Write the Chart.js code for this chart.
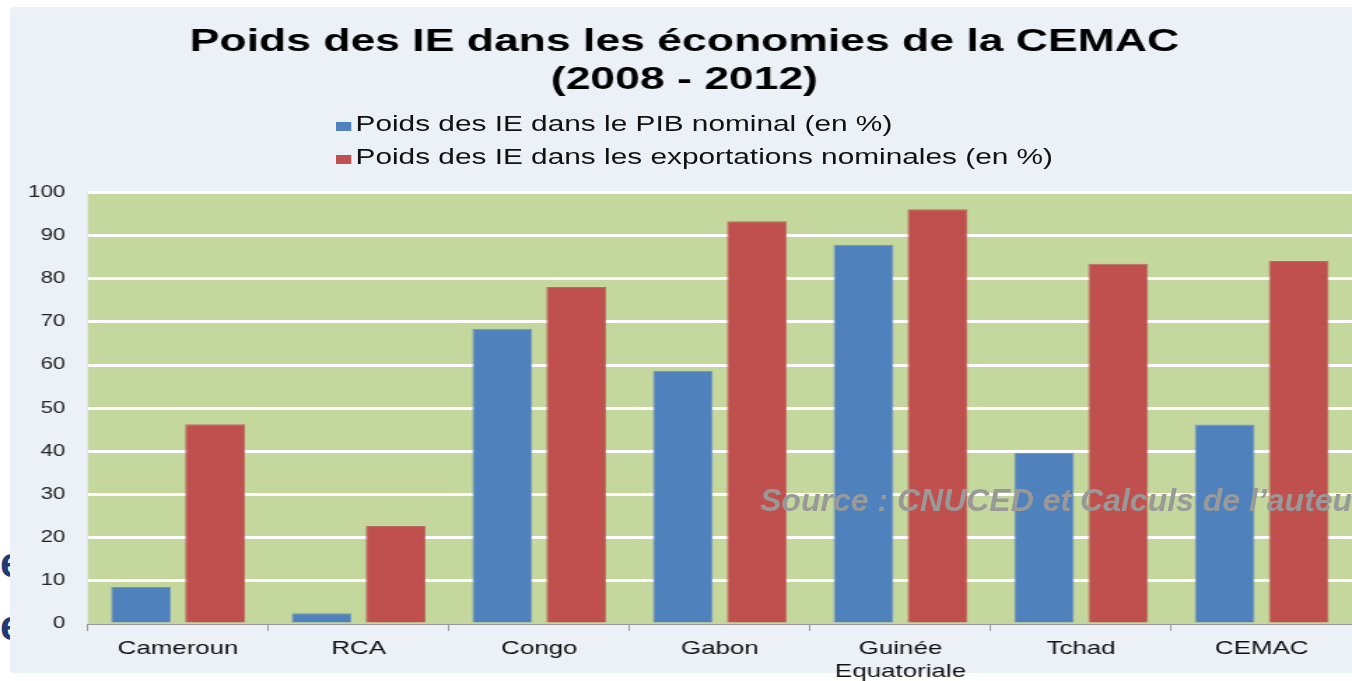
<!DOCTYPE html>
<html lang="fr">
<head>
<meta charset="utf-8">
<script src="https://cdn.jsdelivr.net/npm/chart.js@4.4.1/dist/chart.umd.min.js"></script>
<style>
  html, body { margin: 0; padding: 0; }
  body {
    width: 1352px; height: 681px; overflow: hidden;
    position: relative; background: #ffffff;
    font-family: "Liberation Sans", Arial, sans-serif;
  }
  .bg-e {
    position: absolute; left: 0; font-size: 42px; font-weight: bold;
    color: #1f3a72; line-height: 42px; z-index: 0;
  }
  #panel {
    position: absolute; left: 10px; top: 7px; width: 1342px; height: 666px;
    background: #ecf1f8; z-index: 1;
  }
  /* the reference slide is stretched horizontally, so is this wrapper */
  #stretch {
    position: absolute; left: 0; top: 0; width: 966px; height: 689px;
    transform: scaleX(1.3996); transform-origin: 0 0; z-index: 2;
  }
  #legend { position: absolute; left: 240px; top: 108px; }
  .leg-item {
    display: flex; align-items: center; height: 33px;
    font-size: 21.3px; color: #111; white-space: nowrap;
  }
  .leg-box { width: 11px; height: 9px; margin-right: 3px; margin-top: 4px; }
  #source {
    position: absolute; left: 760px; top: 484px; z-index: 3;
    font-size: 32px; line-height: 32px; font-weight: bold; font-style: italic;
    color: #999999; white-space: nowrap;
  }
</style>
</head>
<body>
<span class="bg-e" style="top:542px">e</span>
<span class="bg-e" style="top:605px">e</span>
<div id="panel"></div>
<div id="stretch">
  <canvas id="chart" width="966" height="689"></canvas>
  <div id="legend"></div>
</div>
<div id="source">Source : CNUCED et Calculs de l’auteur</div>

<script>
const categories = ['Cameroun', 'RCA', 'Congo', 'Gabon', ['Guinée', 'Equatoriale'], 'Tchad', 'CEMAC'];
const seriesNames = ['Poids des IE dans le PIB nominal (en %)', 'Poids des IE dans les exportations nominales (en %)'];
const pibValues = [8.6, 2.5, 68.4, 58.7, 87.9, 39.7, 46.2];
const exportValues = [46.3, 22.7, 78.1, 93.3, 96.1, 83.5, 84.1];
const titleLines = ['Poids des IE dans les économies de la CEMAC', '(2008 - 2012)'];
const yMin = 0, yMax = 100, yStep = 10;

const FONT = '"Liberation Sans", Arial, sans-serif';

const plotBg = {
  id: 'plotBg',
  beforeDraw(chart) {
    const { ctx, chartArea: a } = chart;
    ctx.save();
    ctx.fillStyle = '#c4d79c';
    ctx.fillRect(a.left, a.top, a.right - a.left, a.bottom - a.top);
    ctx.restore();
  }
};

const chart = new Chart(document.getElementById('chart'), {
  type: 'bar',
  data: {
    labels: categories,
    datasets: [
      {
        label: seriesNames[0],
        data: pibValues,
        backgroundColor: '#4f81bd',
        borderColor: '#7393c4',
        borderWidth: 1
      },
      {
        label: seriesNames[1],
        data: exportValues,
        backgroundColor: '#c0504d',
        borderColor: '#b86a63',
        borderWidth: 1
      }
    ]
  },
  options: {
    responsive: false,
    animation: false,
    devicePixelRatio: 1,
    layout: { padding: { left: 4, right: -8, top: 24, bottom: 0 } },
    datasets: { bar: { categoryPercentage: 0.82, barPercentage: 0.81 } },
    plugins: {
      legend: { display: false },
      tooltip: { enabled: false },
      title: {
        display: true,
        text: titleLines,
        color: '#000',
        font: { family: FONT, size: 31.8, weight: 'bold', lineHeight: 1.17 },
        padding: { top: 0, bottom: 94 }
      }
    },
    scales: {
      x: {
        grid: {
          display: true,
          drawOnChartArea: false,
          drawTicks: true,
          tickLength: 7,
          color: '#9a9a9a',
          lineWidth: 1
        },
        border: { display: true, color: '#9a9a9a', width: 1 },
        ticks: {
          color: '#111',
          padding: 6,
          maxRotation: 0,
          autoSkip: false,
          font: { family: FONT, size: 18.5, lineHeight: 1.243 }
        }
      },
      y: {
        min: yMin,
        max: yMax,
        grid: {
          drawTicks: false,
          lineWidth: 3,
          color: ctx => (ctx.tick && ctx.tick.value === 0 ? 'rgba(0,0,0,0)' : '#ffffff')
        },
        border: { display: false },
        ticks: {
          stepSize: yStep,
          padding: 16,
          color: '#222',
          font: { family: FONT, size: 16 }
        }
      }
    }
  },
  plugins: [plotBg]
});

// legend built from the chart's datasets, stacked like the original
const legendEl = document.getElementById('legend');
chart.data.datasets.forEach(ds => {
  const row = document.createElement('div');
  row.className = 'leg-item';
  const box = document.createElement('span');
  box.className = 'leg-box';
  box.style.background = ds.backgroundColor;
  const txt = document.createElement('span');
  txt.textContent = ds.label;
  row.appendChild(box);
  row.appendChild(txt);
  legendEl.appendChild(row);
});
</script>
</body>
</html>
